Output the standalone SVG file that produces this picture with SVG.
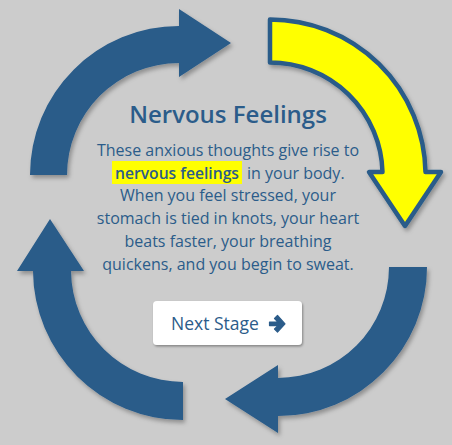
<svg xmlns="http://www.w3.org/2000/svg" width="452" height="445" viewBox="0 0 452 445">
<defs>
<style>
.arrow{fill:#295b89;filter:url(#sh);}
.active{fill:#ffff00;stroke:#295b89;stroke-width:4.5;stroke-linejoin:round;filter:url(#sh);}
.t{font-family:"Open Sans","Noto Sans","Liberation Sans",sans-serif;fill:#2b5c8a;}
.title{font-size:24px;font-weight:600;text-anchor:middle;}
.body{font-size:16px;text-anchor:middle;}
.btn{fill:#ffffff;filter:url(#bsh);}
</style>
<filter id="sh" x="-20%" y="-20%" width="140%" height="140%">
<feDropShadow dx="2" dy="3" stdDeviation="2" flood-color="#000" flood-opacity="0.3"/>
</filter>
<filter id="bsh" x="-20%" y="-30%" width="140%" height="160%">
<feDropShadow dx="1" dy="1.5" stdDeviation="1.2" flood-color="#000" flood-opacity="0.35"/>
</filter>
</defs>
<rect width="452" height="445" fill="#cccccc"/>
<g id="connectors">
<path id="arrow-top-left" class="arrow" d="M30,175 A149,149 0 0 1 179,26 L179,9 L231,43 L179,77 L179,63 A112,112 0 0 0 67,175 Z"/>
<path id="arrow-top-right" class="active" d="M270,19.5 A155.5,155.5 0 0 1 425.5,172 L441,172 L405,226 L369,172 L382.5,172 A112.5,112.5 0 0 0 270,62.5 Z"/>
<path id="arrow-bottom-right" class="arrow" d="M427,267 A149,149 0 0 1 278,416 L278,433 L225,399 L278,365 L278,378 A111,111 0 0 0 389,267 Z"/>
<path id="arrow-bottom-left" class="arrow" d="M183,420 A150,150 0 0 1 33,271 L17,271 L50,219 L84,271 L71,271 A112,112 0 0 0 183,382 Z"/>
</g>
<g id="content">
<text class="t title" x="228" y="123">Nervous Feelings</text>
<text class="t body" x="228" y="156">These anxious thoughts give rise to</text>
<rect x="112" y="161" width="130" height="23" fill="#ffff00"/>
<text class="t" font-size="16" x="115" y="178.7" font-weight="600" fill="#264b70" textLength="124" lengthAdjust="spacingAndGlyphs">nervous feelings</text>
<text class="t" font-size="16" x="247" y="178.7">in your body.</text>
<text class="t body" x="228" y="201.4">When you feel stressed, your</text>
<text class="t body" x="228" y="224.1">stomach is tied in knots, your heart</text>
<text class="t body" x="228" y="246.8">beats faster, your breathing</text>
<text class="t body" x="228" y="269.5">quickens, and you begin to sweat.</text>
</g>
<g id="next-stage-button">
<rect class="btn" x="153" y="301" width="149" height="44" rx="4"/>
<text class="t" x="171" y="330" font-size="17.5">Next Stage</text>
<path d="M269.5,322 L278,322 L274.5,318.5 L277.5,315.5 L285,323.8 L277.5,332 L274.5,329 L278,325.6 L269.5,325.6 Z" fill="#2b5c8a" stroke="#2b5c8a" stroke-width="1.2" stroke-linejoin="round"/>
</g>
</svg>
